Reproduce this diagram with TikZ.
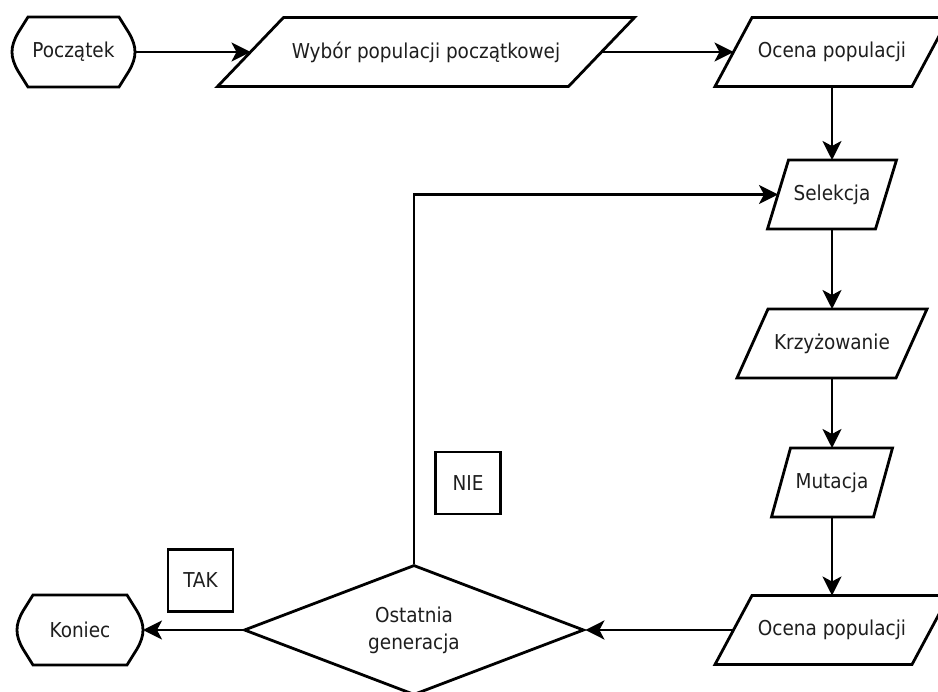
\documentclass[tikz,border=0pt]{standalone}
\usepackage{fontspec}
\setmainfont{DejaVu Sans Condensed}
\usetikzlibrary{shapes.geometric,arrows.meta,calc}
\definecolor{txt}{RGB}{30,30,30}
\newcommand\mytermshape[2]{%
  \draw[line width=2.8pt, shift={(#1.center)}]
    (-#2+16,-35) -- (#2-16,-35) -- (#2-6,-19)
    .. controls (#2-2,-12) and (#2,-6) .. (#2,0)
    .. controls (#2,6) and (#2-2,12) .. (#2-6,19)
    -- (#2-16,35) -- (-#2+16,35) -- (-#2+6,19)
    .. controls (-#2+2,12) and (-#2,6) .. (-#2,0)
    .. controls (-#2,-6) and (-#2+2,-12) .. (-#2+6,-19) -- cycle;}
\newcommand\myparashape[2]{%
  \draw[line width=2.8pt, line join=miter]
    ($(#1.south west)+(-#2/2,0)$) -- ($(#1.south east)+(-#2/2,0)$)
    -- ($(#1.north east)+(#2/2,0)$) -- ($(#1.north west)+(#2/2,0)$) -- cycle;}
\begin{document}
\begin{tikzpicture}[x=1pt,y=-1pt,
  every node/.style={font=\fontsize{20.5}{27}\selectfont, text=txt},
  para/.style={minimum width=#1, minimum height=69pt, inner sep=0pt, outer sep=0pt},
  term/.style={minimum width=#1, minimum height=70pt, inner sep=0pt, outer sep=0pt},
  lbl/.style={draw, line width=2.8pt, minimum width=65pt, minimum height=62pt, inner sep=0pt},
  arr/.style={line width=2.8pt, -{Stealth[length=19pt,width=19pt,inset=5pt]}}
]
\clip (0,0) rectangle (938,692);
\fill[white] (0,0) rectangle (938,692);

\node[term=123pt] (P) at (73.5,52) {Początek};
\mytermshape{P}{61.5}
\node[para=351pt] (W) at (426,52) {Wybór populacji początkowej};
\myparashape{W}{66}
\node[para=197pt] (O1) at (832,52) {Ocena populacji};
\myparashape{O1}{37}
\node[para=108pt] (S) at (832,194.5) {Selekcja};
\myparashape{S}{21}
\node[para=159pt] (K) at (832,343.5) {Krzyżowanie};
\myparashape{K}{31}
\node[para=102pt] (M) at (832,482.5) {Mutacja};
\myparashape{M}{19}
\node[para=197pt] (O2) at (832,630) {Ocena populacji};
\myparashape{O2}{37}
\node[diamond, draw, line width=2.8pt, aspect=2.6, minimum width=340pt, minimum height=130pt, inner sep=0pt, align=center] (D) at (414,630) {\raisebox{-3pt}{Ostatnia}\\\raisebox{-3pt}{generacja}};
\node[term=126pt] (E) at (80,630) {Koniec};
\mytermshape{E}{63}
\node[lbl] (TAK) at (200.5,580.5) {TAK};
\node[lbl] (NIE) at (468,483) {NIE};

\draw[arr] (P) -- (W);
\draw[arr] (W) -- (O1);
\draw[arr] (O1) -- (S);
\draw[arr] (S) -- (K);
\draw[arr] (K) -- (M);
\draw[arr] (M) -- (O2);
\draw[arr] (O2.west) -- (D.east);
\draw[arr] (D.west) -- (E.east);
\draw[arr] (D.north) |- (S);
\end{tikzpicture}
\end{document}
